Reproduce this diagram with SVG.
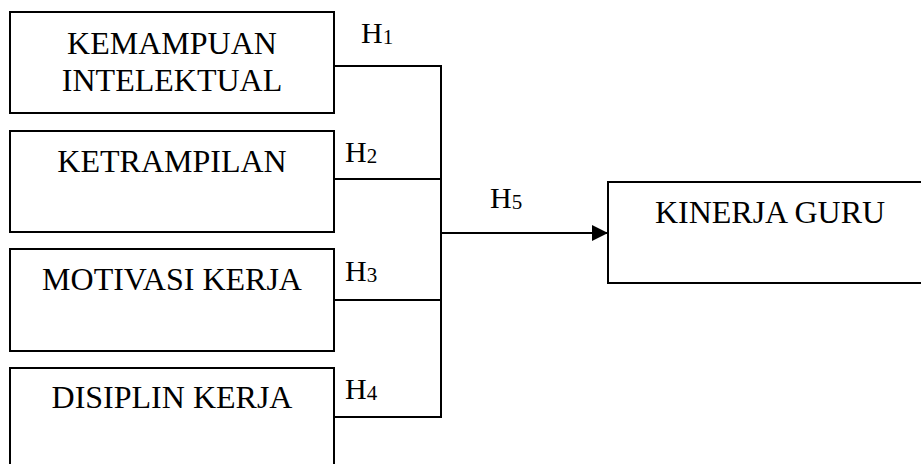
<svg xmlns="http://www.w3.org/2000/svg" width="921" height="464" viewBox="0 0 921 464">
  <style>
    .box { fill: #fff; stroke: #000; stroke-width: 2; }
    .lbl { font-family: "Liberation Serif", "Times New Roman", serif; font-size: 32px; fill: #000; text-anchor: middle; }
    .h { font-family: "Liberation Serif", "Times New Roman", serif; font-size: 30px; fill: #000; }
    .sub { font-size: 21px; }
    .wire { fill: none; stroke: #000; stroke-width: 2; }
  </style>
  <defs>
    <marker id="arrow" viewBox="0 0 16 16" refX="16" refY="8" markerWidth="16" markerHeight="16" markerUnits="userSpaceOnUse" orient="auto">
      <path d="M0,0 L16,8 L0,16 Z" fill="#000"/>
    </marker>
  </defs>
  <rect width="921" height="464" fill="#fff"/>

  <g id="connectors">
    <path class="wire" d="M334,66 H441 V417 H334"/>
    <path class="wire" d="M334,179 H441"/>
    <path class="wire" d="M334,300 H441"/>
    <path class="wire" d="M441,233 H608" marker-end="url(#arrow)"/>
    <text class="h" x="361" y="43">H<tspan class="sub" dy="1">1</tspan></text>
    <text class="h" x="345" y="162">H<tspan class="sub" dy="1">2</tspan></text>
    <text class="h" x="345" y="281">H<tspan class="sub" dy="1">3</tspan></text>
    <text class="h" x="345" y="399">H<tspan class="sub" dy="1">4</tspan></text>
    <text class="h" x="490" y="208">H<tspan class="sub" dy="1">5</tspan></text>
  </g>

  <g id="kemampuan-intelektual">
    <rect class="box" x="10" y="12" width="324" height="101"/>
    <text class="lbl" x="172" y="54">KEMAMPUAN</text>
    <text class="lbl" x="172" y="91">INTELEKTUAL</text>
  </g>

  <g id="ketrampilan">
    <rect class="box" x="10" y="131" width="324" height="101"/>
    <text class="lbl" x="172" y="172">KETRAMPILAN</text>
  </g>

  <g id="motivasi-kerja">
    <rect class="box" x="10" y="249" width="324" height="102"/>
    <text class="lbl" x="172" y="290">MOTIVASI KERJA</text>
  </g>

  <g id="disiplin-kerja">
    <rect class="box" x="10" y="368" width="324" height="110"/>
    <text class="lbl" x="172" y="408">DISIPLIN KERJA</text>
  </g>

  <g id="kinerja-guru">
    <rect class="box" x="608" y="182" width="330" height="101"/>
    <text class="lbl" x="770" y="223">KINERJA GURU</text>
  </g>
</svg>
